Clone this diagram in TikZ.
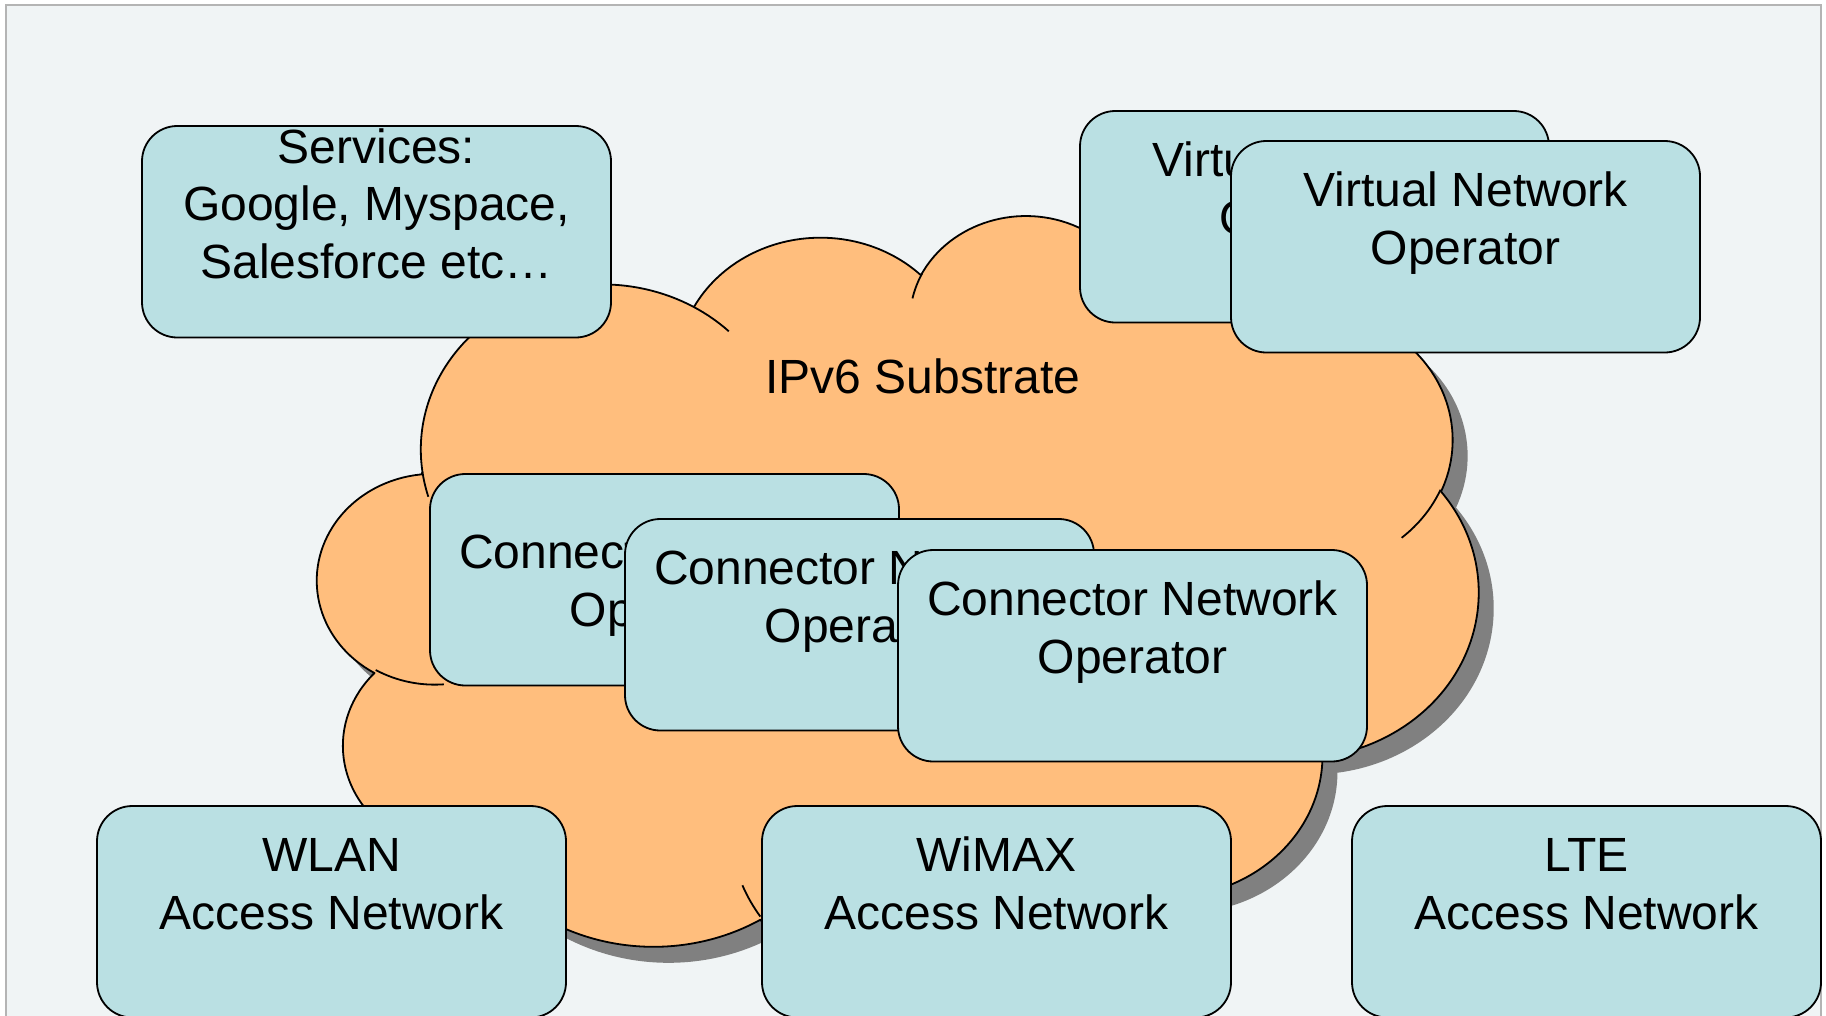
\documentclass[tikz,border=0pt]{standalone}
\usepackage{fontspec}
\setmainfont{Liberation Sans}
\usetikzlibrary{calc}

\definecolor{pagebg}{RGB}{240,244,245}
\definecolor{framegray}{RGB}{180,180,180}
\definecolor{cloudorange}{RGB}{255,190,125}
\definecolor{cloudshadow}{RGB}{128,128,128}
\definecolor{boxcyan}{RGB}{186,224,227}

% Outline of the cloud, in units of 1/100 of a 432 x 432 grid;
% each bump is an elliptical arc given by its radii, start angle and sweep.
\newcommand\cloudoutline{(39.00,143.70)
  arc[cloud arc={67.53}{91.90}{-190.48748}{123.78053}]
  arc[cloud arc={53.33}{72.67}{-144.10238}{89.94523}]
  arc[cloud arc={43.65}{59.45}{-145.80792}{99.72302}]
  arc[cloud arc={48.57}{65.95}{-130.98607}{117.24173}]
  arc[cloud arc={53.33}{72.73}{-78.70888}{109.02692}]
  arc[cloud arc={67.75}{92.20}{-46.26725}{130.269}]
  arc[cloud arc={57.85}{78.67}{0.62502}{114.03333}]
  arc[cloud arc={67.52}{92.15}{22.4516}{115.17255}]
  arc[cloud arc={77.20}{105.43}{66.24263}{75.71102}]
  arc[cloud arc={43.60}{59.18}{-274.94208}{146.73557}]
  arc[cloud arc={43.45}{59.45}{-246.8285}{152.51885}]
  -- cycle}

\begin{document}
\begin{tikzpicture}[x=1pt, y=-1pt,
  declare function={
    pa(\rx,\ry,\sa) = atan2(\rx*sin(\sa), \ry*cos(\sa));
    pd(\rx,\ry,\sa,\sw) = pa(\rx,\ry,\sa+\sw) - pa(\rx,\ry,\sa)
      - 360*round((pa(\rx,\ry,\sa+\sw) - pa(\rx,\ry,\sa) - \sw)/360);
  },
  cloud arc/.style n args={4}{x radius=#1, y radius=#2,
    start angle={pa(#1,#2,#3)}, delta angle={pd(#1,#2,#3,#4)}},
  cloudgrid/.style={x=2.68634pt, y=-1.79861pt},
  cloudline/.style={draw=black, line width=1.8pt, line join=round},
  boxshape/.style={draw=black, line width=1.8pt, fill=boxcyan,
    rounded corners=35.3pt, minimum width=469pt, minimum height=211.5pt,
    inner sep=0pt},
  labeltext/.style={inner sep=0pt, align=center,
    font=\fontsize{48}{57.6}\selectfont},
  boxtext/.style={labeltext, anchor=north},
]
\useasboundingbox (0,0) rectangle (1826,1015);
\clip (0,0) rectangle (1826,1015);
\fill[white] (0,0) rectangle (1826,1015);

% slide frame
\draw[framegray, line width=2pt, fill=pagebg] (5.5,5) rectangle (1820.5,1040);

% cloud: drop shadow, body, inner strokes
\begin{scope}[shift={(332.7,229.5)}, cloudgrid]
  \fill[cloudshadow] \cloudoutline;
\end{scope}
\begin{scope}[shift={(317.7,213.5)}, cloudgrid]
  \path[cloudline, fill=cloudorange] \cloudoutline;
  \draw[cloudline]
    (46.93,261.77) arc[cloud arc={43.45}{59.45}{86.742}{26.4295}]
    (69.28,348.99) arc[cloud arc={43.60}{59.18}{73.61047}{11.44747}]
    (164.78,390.90) arc[cloud arc={67.52}{92.15}{137.62415}{14.0811}]
    (288.27,347.51) arc[cloud arc={67.52}{92.15}{6.45327}{15.99835}]
    (341.29,229.54) arc[cloud arc={57.85}{78.67}{-70.29235}{70.91737}]
    (417.98,153.54) arc[cloud arc={53.33}{72.73}{30.31803}{27.7515}]
    (383.24,54.26) arc[cloud arc={48.57}{65.95}{-13.74433}{14.8589}]
    (290.78,39.52) arc[cloud arc={48.57}{65.95}{-149.18145}{18.19537}]
    (221.41,47.20) arc[cloud arc={43.65}{59.45}{-163.49427}{17.68635}]
    (140.05,52.02) arc[cloud arc={67.53}{91.90}{-66.70695}{12.31935}]
    (41.18,157.47) arc[cloud arc={67.53}{91.90}{158}{11.513}];
\end{scope}
\node[labeltext, anchor=base] (substrate) at (923,393) {IPv6 Substrate};

% services
\node[boxshape] (services) at (376.5,231.75) {};
\node[boxtext] (services-text) at ($(services.north)+(0,-2.5)$)
  {\strut Services:\\Google, Myspace,\\Salesforce etc…};

% virtual network operators
\node[boxshape] (vno-back) at (1314.5,216.75) {};
\node[boxtext] (vno-back-text) at ($(vno-back.north)+(0,26.2)$)
  {\strut Virtual Network\\Operator};
\node[boxshape] (vno-front) at (1465.5,246.75) {};
\node[boxtext] (vno-front-text) at ($(vno-front.north)+(0,26.2)$)
  {\strut Virtual Network\\Operator};

% connector network operators
\node[boxshape] (cno-a) at (664.5,579.75) {};
\node[boxtext] (cno-a-text) at ($(cno-a.north)+(0,55)$)
  {\strut Connector Network\\Operator};
\node[boxshape] (cno-b) at (859.5,624.75) {};
\node[boxtext] (cno-b-text) at ($(cno-b.north)+(0,26.2)$)
  {\strut Connector Network\\Operator};
\node[boxshape] (cno-c) at (1132.5,655.75) {};
\node[boxtext] (cno-c-text) at ($(cno-c.north)+(0,26.2)$)
  {\strut Connector Network\\Operator};

% access networks
\node[boxshape] (wlan) at (331.5,911.75) {};
\node[boxtext] (wlan-text) at ($(wlan.north)+(0,26.2)$)
  {\strut WLAN\\Access Network};
\node[boxshape] (wimax) at (996.5,911.75) {};
\node[boxtext] (wimax-text) at ($(wimax.north)+(0,26.2)$)
  {\strut WiMAX\\Access Network};
\node[boxshape] (lte) at (1586.5,911.75) {};
\node[boxtext] (lte-text) at ($(lte.north)+(0,26.2)$)
  {\strut LTE\\Access Network};
\end{tikzpicture}
\end{document}
